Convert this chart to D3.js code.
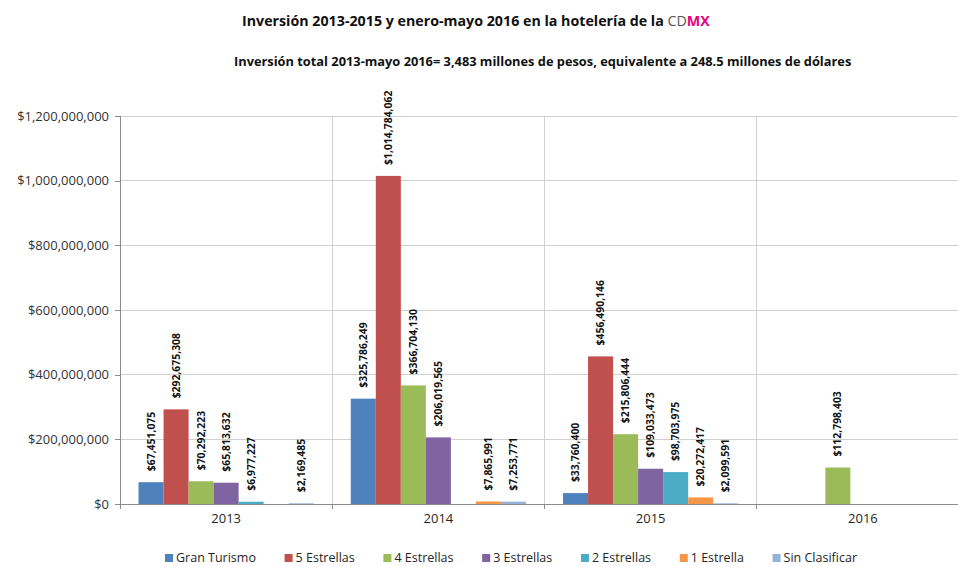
<!DOCTYPE html>
<html>
<head>
<meta charset="utf-8">
<script src="https://cdn.jsdelivr.net/npm/d3@7/dist/d3.min.js"></script>
<style>
  html, body { margin: 0; padding: 0; background: #ffffff; }
  svg { display: block; font-family: "Open Sans", "Noto Sans", sans-serif; }
</style>
</head>
<body>
<svg id="chart" width="958" height="567"></svg>
<script>
// Años (categorías del eje X)
const years = ["2013", "2014", "2015", "2016"];

// Categorías de hotel (series)
const seriesNames = ["Gran Turismo", "5 Estrellas", "4 Estrellas", "3 Estrellas",
                     "2 Estrellas", "1 Estrella", "Sin Clasificar"];

// Inversión por categoría (pesos), en el orden de los años; null = sin dato
const granTurismo   = [67451075, 325786249, 33760400, null];
const cincoEstrellas = [292675308, 1014784062, 456490146, null];
const cuatroEstrellas = [70292223, 366704130, 215806444, 112798403];
const tresEstrellas  = [65813632, 206019565, 109033473, null];
const dosEstrellas   = [6977227, null, 98703975, null];
const unaEstrella    = [null, 7865991, 20272417, null];
const sinClasificar  = [2169485, 7253771, 2099591, null];

const seriesValues = [granTurismo, cincoEstrellas, cuatroEstrellas, tresEstrellas,
                      dosEstrellas, unaEstrella, sinClasificar];

const seriesColors = ["#4F81BD", "#C0504D", "#9BBB59", "#8064A2",
                      "#4BACC6", "#F79646", "#95B3D7"];

// Marcas del eje Y
const yTicks = [0, 200000000, 400000000, 600000000, 800000000, 1000000000, 1200000000];

const titleMain = "Inversión 2013-2015 y enero-mayo 2016 en la hotelería de la ";
const subtitle = "Inversión total 2013-mayo 2016= 3,483 millones de pesos, equivalente a 248.5 millones de dólares";

const svg = d3.select("#chart");

const plot = { left: 120, right: 969, top: 116, bottom: 504 };

const x = d3.scaleBand().domain(years).range([plot.left, plot.right]).paddingInner(0).paddingOuter(0);
const xs = d3.scaleBand().domain(seriesNames).range([0, x.bandwidth()]).paddingInner(0).paddingOuter(0.74);
const y = d3.scaleLinear().domain([0, 1200000000]).range([plot.bottom, plot.top]);

const money = v => "$" + d3.format(",")(v);

// Cuadrícula horizontal
svg.append("g")
  .selectAll("line")
  .data(yTicks.slice(1))
  .join("line")
  .attr("x1", plot.left).attr("x2", 958)
  .attr("y1", d => y(d)).attr("y2", d => y(d))
  .attr("stroke", "#D0D0D0").attr("stroke-width", 1)
  .attr("shape-rendering", "crispEdges");

// Cuadrícula vertical entre años
svg.append("g")
  .selectAll("line")
  .data(years.slice(1))
  .join("line")
  .attr("x1", d => x(d)).attr("x2", d => x(d))
  .attr("y1", plot.top).attr("y2", plot.bottom)
  .attr("stroke", "#D0D0D0").attr("stroke-width", 1)
  .attr("shape-rendering", "crispEdges");

// Eje Y
const yAxis = d3.axisLeft(y).tickValues(yTicks).tickFormat(money).tickSize(5).tickPadding(6);
const gy = svg.append("g").attr("transform", `translate(${plot.left},0)`).call(yAxis);
gy.select(".domain").attr("stroke", "#8C8C8C").attr("shape-rendering", "crispEdges");
gy.selectAll(".tick line").attr("stroke", "#8C8C8C").attr("shape-rendering", "crispEdges");
gy.selectAll(".tick text")
  .attr("font-family", "'Open Sans', sans-serif")
  .attr("font-size", 13).attr("fill", "#333333");

// Eje X
const xAxis = d3.axisBottom(x).tickSize(0).tickPadding(10);
const gx = svg.append("g").attr("transform", `translate(0,${plot.bottom})`).call(xAxis);
gx.select(".domain").remove();
gx.append("line").attr("x1", plot.left).attr("x2", 958).attr("y1", 0).attr("y2", 0)
  .attr("stroke", "#8C8C8C").attr("shape-rendering", "crispEdges");
gx.selectAll(".tick text")
  .attr("font-family", "'Open Sans', sans-serif")
  .attr("font-size", 13).attr("fill", "#262626");
// marcas entre categorías
gx.append("g").selectAll("line")
  .data(years)
  .join("line")
  .attr("x1", d => x(d)).attr("x2", d => x(d))
  .attr("y1", 0).attr("y2", 5)
  .attr("stroke", "#8C8C8C").attr("shape-rendering", "crispEdges");

// Barras
const barData = [];
seriesNames.forEach((s, si) => {
  years.forEach((yr, yi) => {
    const v = seriesValues[si][yi];
    if (v !== null) barData.push({ series: s, year: yr, value: v, color: seriesColors[si] });
  });
});

svg.append("g")
  .selectAll("rect")
  .data(barData)
  .join("rect")
  .attr("x", d => x(d.year) + xs(d.series))
  .attr("width", xs.bandwidth())
  .attr("y", d => y(d.value))
  .attr("height", d => plot.bottom - y(d.value))
  .attr("fill", d => d.color);

// Etiquetas de valor, rotadas
svg.append("g")
  .selectAll("text")
  .data(barData)
  .join("text")
  .attr("transform", d => {
    const cx = x(d.year) + xs(d.series) + xs.bandwidth() / 2;
    const cy = y(d.value) - 11;
    return `translate(${cx},${cy}) rotate(-90)`;
  })
  .attr("dy", "0.35em")
  .attr("text-anchor", "start")
  .attr("font-family", "'Open Sans', sans-serif")
  .attr("font-weight", "bold")
  .attr("font-size", 10.4)
  .attr("fill", "#111111")
  .text(d => money(d.value));

// Título
const title = svg.append("text")
  .attr("x", 242).attr("y", 26)
  .attr("font-family", "'Open Sans', sans-serif")
  .attr("font-size", 15);
title.append("tspan").attr("font-weight", "bold").attr("fill", "#111").text(titleMain);
title.append("tspan").attr("fill", "#555555").text("CD");
title.append("tspan").attr("font-weight", "bold").attr("fill", "#E6007E").text("MX");
{
  const w = title.node().getComputedTextLength();
  title.attr("font-size", 15 * 468 / w);
}

// Subtítulo
const sub = svg.append("text")
  .attr("x", 234).attr("y", 66)
  .attr("font-family", "'Open Sans', sans-serif")
  .attr("font-weight", "bold")
  .attr("font-size", 12)
  .attr("fill", "#111")
  .text(subtitle);
{
  const w = sub.node().getComputedTextLength();
  sub.attr("font-size", 12 * 618 / w);
}

// Leyenda
const legend = svg.append("g");
const items = legend.selectAll("g")
  .data(seriesNames)
  .join("g");
items.append("rect")
  .attr("width", 8).attr("height", 8)
  .attr("y", 554)
  .attr("fill", (d, i) => seriesColors[i]);
items.append("text")
  .attr("x", 11).attr("y", 562)
  .attr("font-family", "'Open Sans', sans-serif")
  .attr("font-size", 12.5)
  .attr("fill", "#262626")
  .text(d => d);
{
  const widths = items.nodes().map(n => 11 + d3.select(n).select("text").node().getComputedTextLength());
  const total = d3.sum(widths);
  const start = 165, end = 857;
  const gap = (end - start - total) / (seriesNames.length - 1);
  let cx = start;
  items.each(function(d, i) {
    d3.select(this).attr("transform", `translate(${cx},0)`);
    cx += widths[i] + gap;
  });
}
</script>
</body>
</html>
